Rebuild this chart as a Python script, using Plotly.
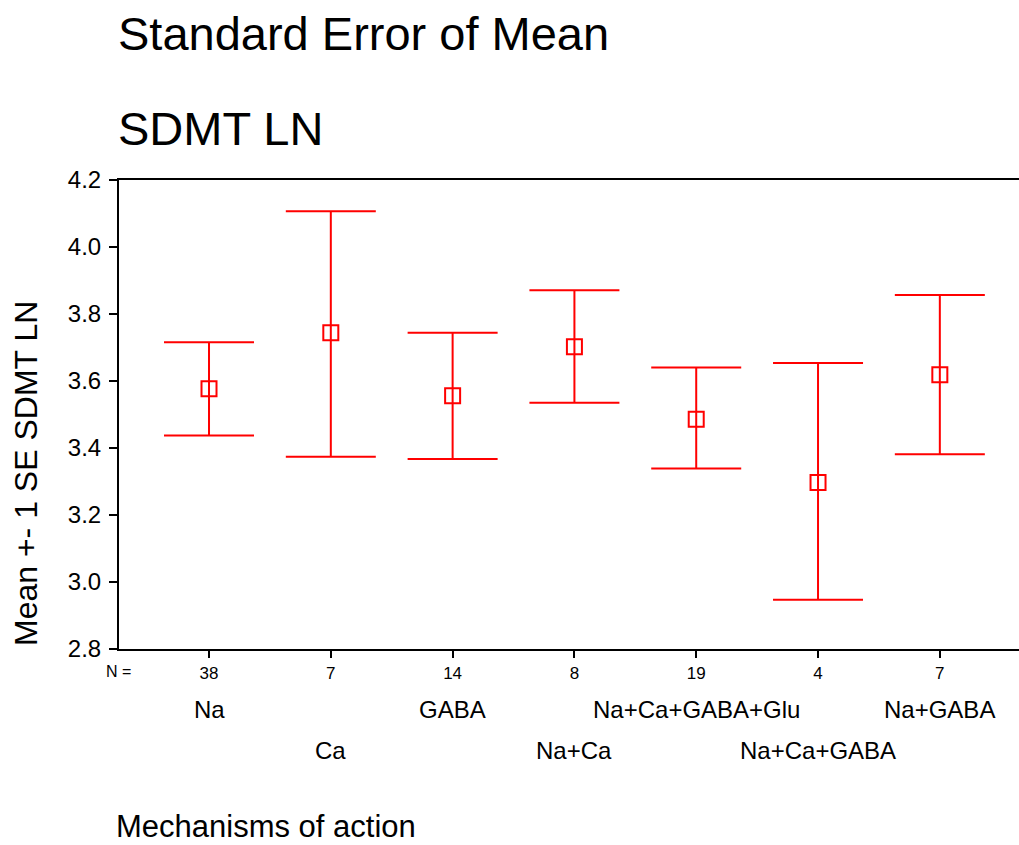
import plotly.graph_objects as go

categories = ["Na", "Ca", "GABA", "Na+Ca", "Na+Ca+GABA+Glu", "Na+Ca+GABA", "Na+GABA"]
n_values = [38, 7, 14, 8, 19, 4, 7]
means = [3.577, 3.744, 3.556, 3.702, 3.486, 3.297, 3.619]
upper = [3.716, 4.107, 3.744, 3.871, 3.640, 3.654, 3.857]
lower = [3.437, 3.374, 3.367, 3.535, 3.339, 2.947, 3.381]
y_ticks = [2.8, 3.0, 3.2, 3.4, 3.6, 3.8, 4.0, 4.2]

FONT = "Liberation Sans, Arial, sans-serif"
RED = "#FF0000"

xpos = list(range(len(categories)))
err_plus = [u - m for u, m in zip(upper, means)]
err_minus = [m - l for m, l in zip(means, lower)]

fig = go.Figure()
fig.add_trace(go.Scatter(
    x=xpos, y=means, mode="markers",
    marker=dict(symbol="square-open", size=15, color=RED, line=dict(width=2, color=RED)),
    error_y=dict(type="data", symmetric=False, array=err_plus, arrayminus=err_minus,
                 color=RED, thickness=2, width=45),
    showlegend=False, hoverinfo="skip",
))

annotations = []
# category labels, alternating rows
for i, cat in enumerate(categories):
    annotations.append(dict(
        x=i, xref="x", y=0, yref="paper", yanchor="middle", xanchor="center",
        yshift=-60 if i % 2 == 0 else -101, text=cat, showarrow=False,
        font=dict(family=FONT, size=24, color="black")))
annotations.append(dict(x=0, xref="paper", y=0, yref="paper", xanchor="center", yanchor="middle",
                        xshift=-1, yshift=-22, text="N =", showarrow=False,
                        font=dict(family=FONT, size=16, color="black")))
annotations.append(dict(x=0, xref="paper", y=1, yref="paper", xanchor="left", yanchor="middle",
                        xshift=-3, yshift=147, text="Standard Error of Mean", showarrow=False,
                        font=dict(family=FONT, size=47, color="black")))
annotations.append(dict(x=0, xref="paper", y=1, yref="paper", xanchor="left", yanchor="middle",
                        xshift=-3, yshift=52, text="SDMT LN", showarrow=False,
                        font=dict(family=FONT, size=47, color="black")))
annotations.append(dict(x=0, xref="paper", y=0, yref="paper", xanchor="center", yanchor="middle",
                        xshift=-93, yshift=175, text="Mean +- 1 SE SDMT LN", textangle=-90,
                        showarrow=False, font=dict(family=FONT, size=32, color="black")))
annotations.append(dict(x=0, xref="paper", y=0, yref="paper", xanchor="left", yanchor="bottom",
                        xshift=-4, yshift=-196, text="Mechanisms of action", showarrow=False,
                        borderpad=0, font=dict(family=FONT, size=31, color="black")))

fig.update_layout(
    width=1019, height=845,
    margin=dict(l=119, r=0, t=180, b=196),
    paper_bgcolor="white", plot_bgcolor="white",
    font=dict(family=FONT, color="black"),
    annotations=annotations,
    xaxis=dict(range=[-0.739, 6.65], tickmode="array", tickvals=xpos,
               ticktext=[str(n) for n in n_values], tickfont=dict(family=FONT, size=17),
               ticks="outside", ticklen=7, tickwidth=2, tickcolor="black",
               showline=True, linecolor="black", linewidth=2, mirror=True,
               showgrid=False, zeroline=False, ticklabelstandoff=1),
    yaxis=dict(range=[2.8, 4.2], tickmode="array", tickvals=y_ticks,
               ticktext=[f"{v:.1f}" for v in y_ticks], tickfont=dict(family=FONT, size=24),
               ticks="outside", ticklen=8, tickwidth=2, tickcolor="black",
               showline=True, linecolor="black", linewidth=2, mirror=False,
               showgrid=False, zeroline=False, ticklabelstandoff=3),
)

fig.write_html("out.html")
